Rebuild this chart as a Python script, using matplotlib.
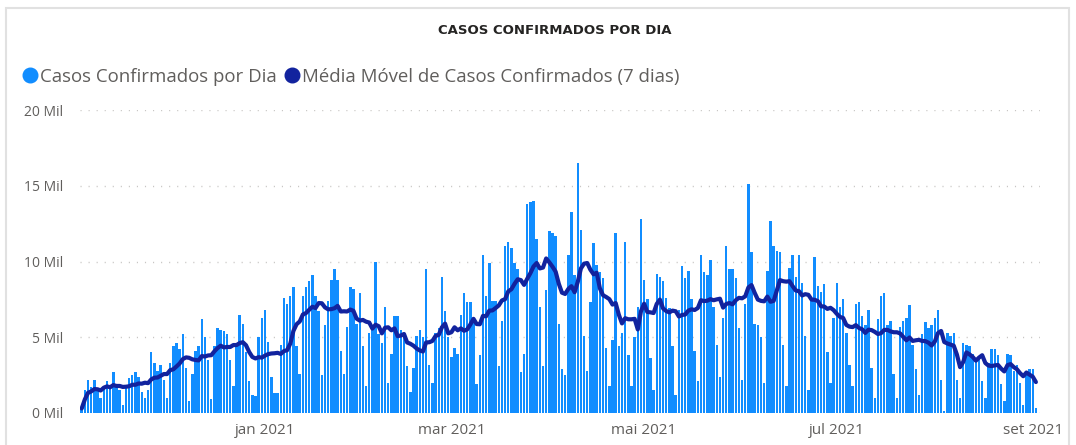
import numpy as np
import pandas as pd
import matplotlib
matplotlib.use('Agg')
import matplotlib.pyplot as plt
from matplotlib.lines import Line2D
from matplotlib.patches import Rectangle

# casos confirmados por dia (em mil)
casos_nov = [0.3, 1.5, 2.2, 1.7, 2.2, 1.5, 1.0, 1.6, 2.1, 1.8, 2.7, 1.8, 1.5, 0.55, 1.7, 2.3, 2.5, 2.7,
             2.4, 1.4, 1.0, 1.5, 4.0, 3.3, 2.8, 3.2, 2.2]
casos_dez = [1.0, 3.3, 4.4, 4.6, 4.2, 5.2, 3.0, 0.8, 2.6, 4.1, 4.4, 6.2, 5.0, 3.5, 0.9, 4.4, 5.6, 5.5,
             5.4, 5.2, 3.5, 1.8, 4.4, 6.5, 5.9, 4.0, 2.1, 1.2, 1.1, 5.0, 6.3]
casos_jan = [6.8, 4.7, 2.4, 1.3, 1.3, 4.5, 7.6, 7.2, 7.7, 8.3, 4.4, 2.6, 7.7, 8.3, 8.7, 9.1, 7.7, 6.7,
             2.5, 5.8, 7.4, 8.8, 9.5, 8.8, 4.1, 2.6, 5.7, 8.3, 8.2, 5.9, 7.9]
casos_fev = [4.4, 1.8, 5.3, 5.5, 10.0, 5.2, 4.6, 7.0, 2.0, 3.9, 6.4, 6.4, 5.5, 5.3, 3.1, 1.4, 3.0, 5.1,
             5.5, 5.0, 9.5, 3.2, 2.0, 5.3, 5.6, 9.0, 6.7, 5.0]
casos_mar = [3.7, 4.3, 3.9, 6.5, 7.9, 7.3, 7.3, 6.3, 1.9, 3.8, 10.4, 7.7, 9.9, 7.4, 7.4, 3.1, 6.1, 11.0,
             11.3, 10.9, 9.9, 9.5, 2.7, 3.9, 13.8, 13.9, 14.0, 11.5, 7.0, 3.1, 8.1]
casos_abr = [12.0, 11.9, 11.7, 5.9, 2.9, 2.5, 10.4, 13.3, 9.1, 16.5, 12.1, 5.1, 2.8, 7.3, 11.2, 9.8,
             9.3, 8.9, 4.3, 1.8, 4.8, 11.9, 4.4, 5.3, 11.3, 3.8, 1.8, 5.0, 7.0, 12.8]
casos_mai = [8.8, 7.5, 3.6, 1.5, 9.2, 9.0, 8.7, 7.6, 6.9, 4.4, 1.2, 6.8, 9.7, 8.9, 9.4, 7.5, 4.1, 2.1,
             10.4, 9.3, 9.1, 10.1, 7.0, 4.5, 2.4, 6.3, 11.0, 9.5, 9.5, 8.9, 5.6]
casos_jun = [2.2, 7.2, 15.1, 10.6, 5.9, 5.8, 5.0, 2.0, 9.4, 12.7, 11.0, 10.7, 10.6, 4.5, 1.8, 9.6, 10.4,
             9.0, 10.4, 8.6, 5.1, 1.5, 7.4, 10.3, 8.4, 8.0, 8.5, 4.0, 2.0, 6.3]
casos_jul = [8.6, 7.0, 7.5, 5.3, 3.2, 1.8, 7.2, 7.3, 6.4, 5.8, 6.8, 3.0, 1.0, 6.2, 7.7, 7.9, 5.8, 6.1,
             2.6, 1.0, 5.7, 6.1, 6.3, 7.1, 4.5, 2.9, 1.2, 5.2, 6.0, 5.6, 5.8]
casos_ago = [6.3, 6.8, 2.2, 0.1, 5.3, 5.1, 5.3, 2.2, 1.0, 4.6, 4.5, 4.4, 3.9, 3.6, 3.6, 2.1, 1.0, 3.3,
             4.2, 4.2, 3.8, 1.9, 0.8, 3.9, 3.8, 2.8, 3.2, 2.0, 0.5, 2.5, 2.9]
casos_set = [2.9, 0.3]

data_inicio = '2020-11-04'
meses_ticks = ['2021-01-01', '2021-03-01', '2021-05-01', '2021-07-01', '2021-09-01']
meses_labels = ['jan 2021', 'mar 2021', 'mai 2021', 'jul 2021', 'set 2021']
y_ticks = [0, 5000, 10000, 15000, 20000]
y_labels = ['0 Mil', '5 Mil', '10 Mil', '15 Mil', '20 Mil']

casos = np.array(casos_nov + casos_dez + casos_jan + casos_fev + casos_mar + casos_abr +
                 casos_mai + casos_jun + casos_jul + casos_ago + casos_set) * 1000
datas = pd.date_range(data_inicio, periods=len(casos), freq='D')
media = pd.Series(casos).rolling(7, min_periods=1).mean().values

cor_barra = '#118DFF'
cor_linha = '#12239E'
cinza = '#605E5C'

fig = plt.figure(figsize=(10.76, 4.45), dpi=100)
ax = fig.add_axes([80 / 1076, 1 - 413 / 445, 960 / 1076, 303 / 445])

ax.bar(datas, casos, width=0.78, color=cor_barra, zorder=2)
ax.plot(datas, media, color=cor_linha, lw=3.0, zorder=3, solid_capstyle='round')

ax.set_ylim(0, 20000)
ax.set_xlim(datas[0] - pd.Timedelta(hours=13), datas[0] + pd.Timedelta(days=303.3))
ax.set_yticks(y_ticks)
ax.set_yticklabels(y_labels, fontsize=10, color=cinza, family='Open Sans')
ax.set_xticks(pd.to_datetime(meses_ticks))
ax.set_xticklabels(meses_labels, fontsize=11, color=cinza, family='Open Sans')
ax.tick_params(axis='both', length=0)
ax.tick_params(axis='y', pad=12)
ax.tick_params(axis='x', pad=7)
ax.grid(axis='y', color='#C8C6C4', linestyle=(0, (0.8, 5)), lw=1, zorder=0)
for s in ax.spines.values():
    s.set_visible(False)

fig.text(555 / 1076, 1 - 30 / 445, 'CASOS CONFIRMADOS POR DIA', ha='center', va='center',
         fontsize=9.5, fontweight='bold', color='#252423', family='DejaVu Sans')

handles = [Line2D([], [], marker='o', linestyle='', markersize=10.5, color=cor_barra),
           Line2D([], [], marker='o', linestyle='', markersize=10.5, color=cor_linha)]
fig.legend(handles, ['Casos Confirmados por Dia', 'Média Móvel de Casos Confirmados (7 dias)'],
           loc='center left', bbox_to_anchor=(14 / 1076, 1 - 77 / 445), ncol=2, frameon=False,
           handlelength=0.7, handletextpad=0.2, columnspacing=0.45, borderpad=0,
           prop={'family': 'Open Sans', 'size': 13.4}, labelcolor=cinza)

# moldura do visual
fig.add_artist(Rectangle((6 / 1076, -0.05), 1063 / 1076, 1.05 - 8 / 445, fill=False,
                         edgecolor='#E1E1E1', lw=1.5, transform=fig.transFigure))

fig.savefig('out.png', dpi=100)
